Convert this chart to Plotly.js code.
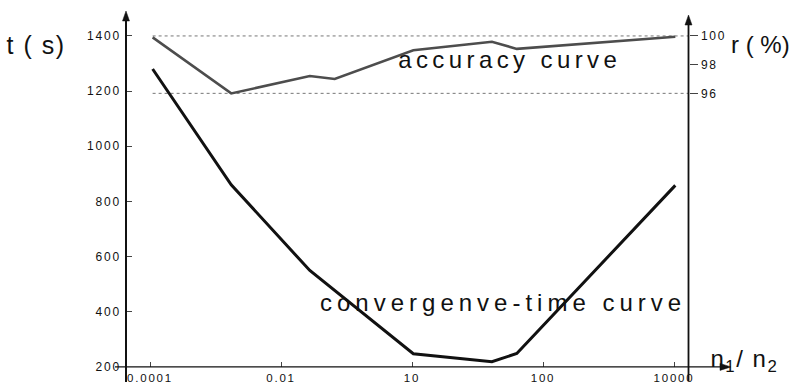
<!DOCTYPE html>
<html>
<head>
<meta charset="utf-8">
<script src="https://cdn.plot.ly/plotly-3.0.1.min.js"></script>
<style>
  html, body { margin: 0; padding: 0; background: #fff; }
  #chart { width: 792px; height: 385px; }
  .xtick text, .ytick text, .y2tick text { letter-spacing: 1.8px; }
  g.annotation[data-index="0"] text { letter-spacing: 1.5px; }
  g.annotation[data-index="2"] text { letter-spacing: 4.4px; }
  g.annotation[data-index="3"] text { letter-spacing: 5px; }
  g.annotation[data-index="4"] text { letter-spacing: 1.5px; }
</style>
</head>
<body>
<div id="chart"></div>
<script>
// Tick labels of the (irregular) n1/n2 axis, drawn at equally spaced positions
const xLabels = ["0.0001", "0.01", "10", "100", "10000"];
const xTickPos = [0, 1, 2, 3, 4];

// Accuracy curve r (%) on the right axis
const accPos = [0.02, 0.62, 1.22, 1.41, 2.01, 2.61, 2.80, 4.01];
const accuracy = [99.9, 96.0, 97.2, 97.0, 99.0, 99.6, 99.1, 99.95];

// Convergence-time curve t (s) on the left axis
const convPos = [0.02, 0.62, 1.22, 2.01, 2.61, 2.80, 4.01];
const convTime = [1280, 860, 549, 247, 218, 248, 858];

// Axis tick values
const tTicks = [200, 400, 600, 800, 1000, 1200, 1400];
const rTicks = [96, 98, 100];
const refLines = [100, 96];

const FONT = '"Liberation Sans", Arial, Helvetica, sans-serif';

// plot area geometry (pixels): the x axis runs from 115 to 724 px,
// the left/right value axes stand at 126 px and 688.5 px
const L = 115, T = 15, W = 609, H = 352;
const PX0 = 150, PXU = 131;               // pixel of tick 0 and pixels per tick step
const xRange = [(L - PX0) / PXU, (L + W - PX0) / PXU];
const leftAxisPx = 126, rightAxisPx = 688.5;
const px = x => (x - L) / W;
const py = y => (T + H - y) / H;
const toX = p => (p - PX0) / PXU;

const traces = [
  {
    x: accPos, y: accuracy, yaxis: 'y2', type: 'scatter', mode: 'lines',
    line: { color: '#4d4d4d', width: 2.5 }, hoverinfo: 'skip'
  },
  {
    x: convPos, y: convTime, yaxis: 'y', type: 'scatter', mode: 'lines',
    line: { color: '#111111', width: 3 }, hoverinfo: 'skip'
  }
];

const shapes = refLines.map(v => ({
  type: 'line', xref: 'x', yref: 'y2', layer: 'below',
  x0: accPos[0], x1: toX(rightAxisPx), y0: v, y1: v,
  line: { color: '#777', width: 1, dash: 'dot' }
}));

function vbar(x, y0, y1, w) {
  return { type: 'rect', xref: 'paper', yref: 'paper', layer: 'above',
    x0: px(x - w / 2), x1: px(x + w / 2), y0: py(y0), y1: py(y1),
    fillcolor: '#111', line: { width: 0 } };
}
function tri(pts) {
  const d = 'M ' + pts.map(p => px(p[0]).toFixed(5) + ',' + py(p[1]).toFixed(5)).join(' L ') + ' Z';
  return { type: 'path', xref: 'paper', yref: 'paper', layer: 'above', path: d,
    fillcolor: '#111', line: { color: '#111', width: 0.5 } };
}
// left axis
shapes.push(vbar(leftAxisPx, 382, 18, 2));
shapes.push(tri([[leftAxisPx, 11], [leftAxisPx - 3.5, 21], [leftAxisPx + 3.5, 21]]));
// right axis
shapes.push(vbar(rightAxisPx, 381, 22, 1.8));
shapes.push(tri([[rightAxisPx, 15], [rightAxisPx - 3.5, 25], [rightAxisPx + 3.5, 25]]));
// x axis line and arrow head
shapes.push({ type: 'rect', xref: 'paper', yref: 'paper', layer: 'above',
  x0: px(115), x1: px(722), y0: py(367.6), y1: py(366.2),
  fillcolor: '#111', line: { width: 0 } });
shapes.push(tri([[731, 366.9], [720, 363.4], [720, 370.4]]));

const annotations = [
  { xref: 'paper', yref: 'paper', x: px(36), y: py(45), text: 't ( s)', showarrow: false,
    xanchor: 'center', yanchor: 'middle', font: { family: FONT, size: 25, color: '#111' } },
  { xref: 'paper', yref: 'paper', x: px(760), y: py(45), text: 'r ( %)', showarrow: false,
    xanchor: 'center', yanchor: 'middle', font: { family: FONT, size: 24, color: '#111' } },
  { xref: 'paper', yref: 'paper', x: px(509), y: py(60), text: 'accuracy curve', showarrow: false,
    xanchor: 'center', yanchor: 'middle', font: { family: FONT, size: 24, color: '#111' } },
  { xref: 'paper', yref: 'paper', x: px(503), y: py(302), text: 'convergenve-time curve', showarrow: false,
    xanchor: 'center', yanchor: 'middle', font: { family: FONT, size: 24, color: '#111' } },
  { xref: 'paper', yref: 'paper', x: px(744), y: py(360), text: 'n<sub>1</sub>/ n<sub>2</sub>', showarrow: false,
    xanchor: 'center', yanchor: 'middle', font: { family: FONT, size: 24, color: '#111' } }
];

const layout = {
  width: 792, height: 385,
  margin: { l: L, r: 792 - L - W, t: T, b: 385 - T - H, pad: 0 },
  paper_bgcolor: '#fff', plot_bgcolor: '#fff',
  showlegend: false,
  font: { family: FONT, size: 12, color: '#111' },
  xaxis: {
    range: xRange, tickmode: 'array', tickvals: xTickPos, ticktext: xLabels,
    ticks: 'inside', ticklen: 5, tickwidth: 1, tickcolor: '#444',
    showgrid: false, zeroline: false, showline: false,
    tickfont: { family: FONT, size: 11.5, color: '#111' }, ticklabelstandoff: 2
  },
  yaxis: {
    anchor: 'free', position: px(leftAxisPx),
    range: [199, 1476], tickmode: 'array', tickvals: tTicks,
    ticks: 'inside', ticklen: 5, tickwidth: 1, tickcolor: '#444',
    showgrid: false, zeroline: false, showline: false,
    tickfont: { family: FONT, size: 12, color: '#111' }, ticklabelstandoff: 5
  },
  yaxis2: {
    overlaying: 'y', side: 'right', anchor: 'free', position: px(rightAxisPx),
    range: [76.93, 101.46], tickmode: 'array', tickvals: rTicks,
    ticks: 'outside', ticklen: 8, tickwidth: 1, tickcolor: '#444',
    showgrid: false, zeroline: false, showline: false,
    tickfont: { family: FONT, size: 12, color: '#111' }, ticklabelstandoff: 1
  },
  shapes: shapes,
  annotations: annotations
};

Plotly.newPlot('chart', traces, layout, { staticPlot: true, displayModeBar: false });
</script>
</body>
</html>
